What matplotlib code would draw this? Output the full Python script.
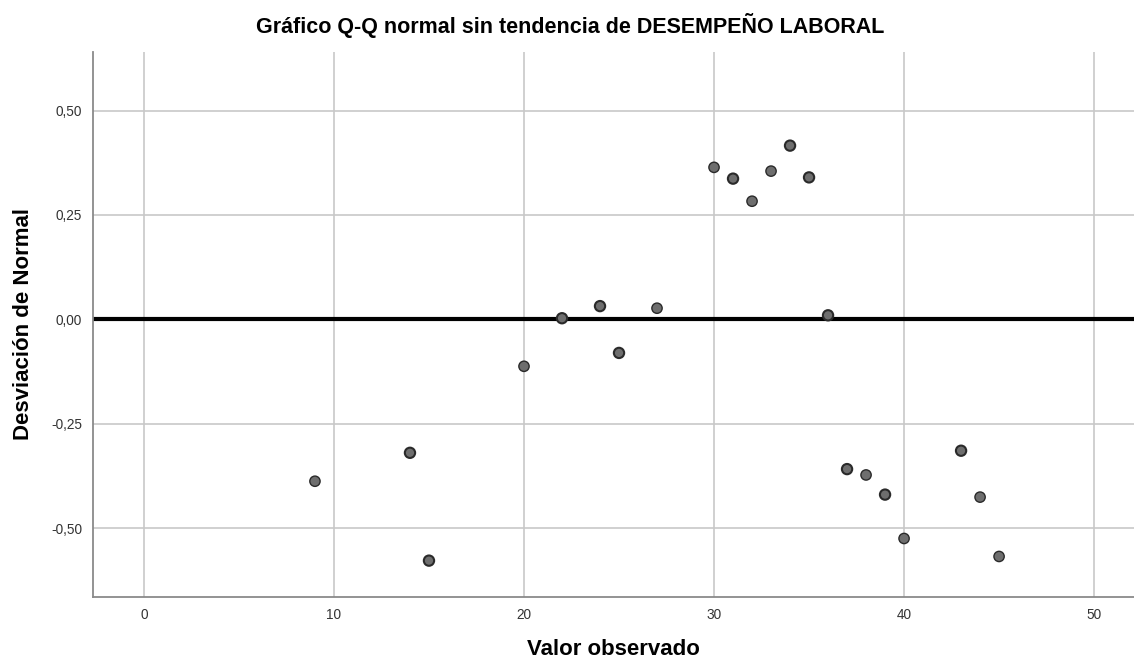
import matplotlib.pyplot as plt
from matplotlib.ticker import FuncFormatter

# valor observado vs desviación de la normal
valor = [9, 14, 15, 20, 22, 24, 25, 27, 30, 31, 32, 33, 34, 35, 36,
         37, 38, 39, 40, 43, 44, 45]
desviacion = [-0.387, -0.319, -0.577, -0.112, 0.003, 0.032, -0.080, 0.027,
              0.364, 0.337, 0.283, 0.355, 0.416, 0.340, 0.010,
              -0.358, -0.372, -0.419, -0.524, -0.314, -0.425, -0.567]
# casos repetidos (se ven con borde más oscuro)
frecuencia = [1, 2, 2, 1, 2, 2, 2, 1, 1, 2, 1, 1, 2, 2, 2,
              2, 1, 2, 1, 2, 1, 1]

x_ticks = [0, 10, 20, 30, 40, 50]
y_ticks = [-0.50, -0.25, 0.00, 0.25, 0.50]

plt.rcParams["font.family"] = ["Liberation Sans", "DejaVu Sans"]

fig = plt.figure(figsize=(11.34, 6.63), dpi=100)
ax = fig.add_axes([93 / 1134, 1 - 597 / 663, (1134 - 93) / 1134, (597 - 52) / 663])

ax.set_xlim(-2.68, 52.1)
ax.set_ylim(-0.664, 0.64)
ax.set_xticks(x_ticks)
ax.set_yticks(y_ticks)
ax.yaxis.set_major_formatter(FuncFormatter(lambda v, p: f"{v:.2f}".replace(".", ",")))

ax.grid(True, color="#c8c8c8", linewidth=1.2)
ax.set_axisbelow(True)
ax.tick_params(length=0, labelsize=9.8, colors="#333333", pad=8)

for s in ["top", "right"]:
    ax.spines[s].set_visible(False)
for s in ["left", "bottom"]:
    ax.spines[s].set_color("#8a8a8a")
    ax.spines[s].set_linewidth(1.3)

ax.axhline(0, color="black", linewidth=3, zorder=2)

edge_w = [1.0 if f == 1 else 1.5 for f in frecuencia]
ax.scatter(valor, desviacion, s=55, color="#6e6e6e", edgecolors="#2a2a2a",
           linewidths=edge_w, zorder=3)

ax.set_xlabel("Valor observado", fontsize=16, fontweight="bold", labelpad=12)
ax.set_ylabel("Desviación de Normal", fontsize=16, fontweight="bold", labelpad=12)
fig.suptitle("Gráfico Q-Q normal sin tendencia de DESEMPEÑO LABORAL",
             fontsize=15.5, fontweight="bold", x=0.503, y=0.98)

fig.savefig("out.png", dpi=100)
